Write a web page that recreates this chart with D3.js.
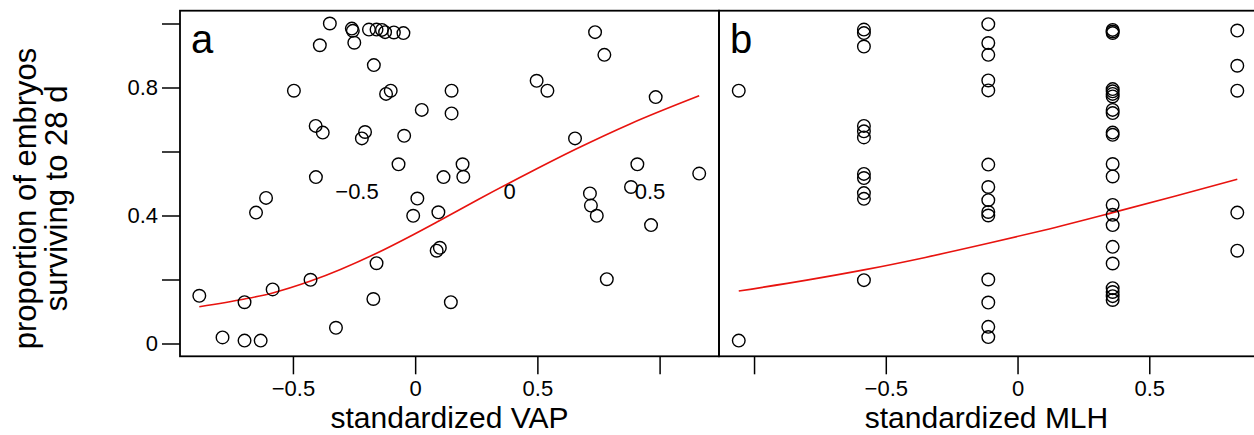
<!DOCTYPE html>
<html>
<head>
<meta charset="utf-8">
<script src="https://cdn.jsdelivr.net/npm/d3@7"></script>
<style>
  html, body { margin: 0; padding: 0; background: #fff; }
  svg { display: block; }
  text { font-family: "Liberation Sans", Arial, Helvetica, sans-serif; fill: #000; }
</style>
</head>
<body>
<svg id="chart" width="1254" height="435"></svg>
<script>
// Panel a: survival vs standardized VAP
const vapX = [-0.349, -0.259, -0.255, -0.189, -0.158, -0.136, -0.123, -0.087, -0.048,
  -0.390, -0.249, -0.169, -0.496, -0.119, -0.100, 0.027, -0.407, -0.378, -0.205, -0.218,
  -0.045, -0.068, -0.406, 0.116, -0.610, 0.009, -0.651, -0.008, 0.095, 0.101, 0.088,
  -0.158, -0.883, -0.698, -0.583, -0.428, -0.171, -0.324, -0.788, -0.698, -0.632, 0.146,
  0.736, 0.774, 0.149, 0.149, 0.497, 0.541, 0.984, 0.654, 0.194, 0.197, 0.909, 1.162,
  0.883, 0.715, 0.719, 0.743, 0.965, 0.784];
const vapSurvival = [1.000, 0.984, 0.977, 0.981, 0.981, 0.980, 0.973, 0.972, 0.970,
  0.932, 0.940, 0.870, 0.790, 0.780, 0.790, 0.730, 0.680, 0.659, 0.661, 0.641,
  0.649, 0.560, 0.520, 0.520, 0.455, 0.453, 0.409, 0.399, 0.410, 0.299, 0.290,
  0.251, 0.149, 0.129, 0.169, 0.199, 0.139, 0.049, 0.019, 0.009, 0.009, 0.129,
  0.973, 0.902, 0.790, 0.719, 0.821, 0.790, 0.770, 0.641, 0.560, 0.521, 0.560, 0.531,
  0.489, 0.469, 0.431, 0.399, 0.370, 0.201];
// fitted survival curve for panel a
const vapFitX = [-0.883, -0.698, -0.583, -0.428, -0.158, -0.008, 0.095, 0.258, 0.470, 0.654, 0.879, 1.162];
const vapFitY = [0.115, 0.139, 0.158, 0.195, 0.282, 0.340, 0.382, 0.450, 0.535, 0.606, 0.686, 0.774];

// Panel b: survival vs standardized MLH (one column per MLH level)
const mlhLevels = [-1.058, -0.583, -0.111, 0.361, 0.834];
const mlhSurvival = [
  [0.790, 0.009],
  [0.981, 0.970, 0.928, 0.680, 0.663, 0.644, 0.530, 0.517, 0.470, 0.452, 0.198],
  [0.998, 0.939, 0.902, 0.822, 0.791, 0.559, 0.489, 0.448, 0.411, 0.400, 0.200, 0.128, 0.052, 0.020],
  [0.980, 0.975, 0.970, 0.795, 0.788, 0.780, 0.772, 0.730, 0.720, 0.659, 0.652, 0.561, 0.522,
   0.433, 0.402, 0.370, 0.302, 0.250, 0.173, 0.161, 0.148, 0.136],
  [0.978, 0.868, 0.790, 0.409, 0.290]
];
// fitted survival curve for panel b
const mlhFitX = [-1.058, -0.8, -0.583, -0.35, -0.111, 0.1, 0.361, 0.6, 0.834];
const mlhFitY = [0.164, 0.198, 0.230, 0.269, 0.313, 0.354, 0.409, 0.461, 0.513];

// Axis ticks and labels
const yTicks = [0, 0.2, 0.4, 0.6, 0.8, 1.0];
const yTickLabels = ["0", "", "0.4", "", "0.8", ""];
const vapTicks = [-0.5, 0, 0.5, 1.0];
const vapTickLabels = ["\u22120.5", "0", "0.5", ""];
const mlhTicks = [-1.0, -0.5, 0, 0.5];
const mlhTickLabels = ["", "\u22120.5", "0", "0.5"];
const innerTicks = [-0.5, 0, 0.5];
const innerTickLabels = ["\u22120.5", "0", "0.5"];
const panelLetters = ["a", "b"];
const xTitles = ["standardized VAP", "standardized MLH"];
const yTitleLines = ["proportion of embryos", "surviving to 28 d"];

const svg = d3.select("#chart");

const plotTop = 10.7, plotBottom = 356.3;
const y = d3.scaleLinear().domain([-0.04, 1.04]).range([plotBottom, plotTop]);
const xa = d3.scaleLinear().domain([-0.962, 1.243]).range([180, 719]);
const xb = d3.scaleLinear().domain([-1.133, 0.905]).range([719, 1256]);
const xInner = d3.scaleLinear().domain([-0.5, 0, 0.5]).range([357, 509.5, 650]);

const circleR = 6.3;

function drawPanel(x, xTicks, xLabels, letter, title, pts, fitX, fitY) {
  const [x0, x1] = x.range();
  const g = svg.append("g");

  // fitted curve
  const line = d3.line().x(d => x(d[0])).y(d => y(d[1])).curve(d3.curveMonotoneX);
  g.append("path")
    .datum(d3.zip(fitX, fitY))
    .attr("d", line)
    .attr("fill", "none")
    .attr("stroke", "#e8130f")
    .attr("stroke-width", 1.6);

  // data points
  g.selectAll("circle.pt").data(pts).join("circle")
    .attr("class", "pt")
    .attr("cx", d => x(d[0]))
    .attr("cy", d => y(d[1]))
    .attr("r", circleR)
    .attr("fill", "none")
    .attr("stroke", "#000")
    .attr("stroke-width", 1.4);

  // frame
  g.append("rect")
    .attr("x", x0).attr("y", plotTop)
    .attr("width", x1 - x0).attr("height", plotBottom - plotTop)
    .attr("fill", "none").attr("stroke", "#000").attr("stroke-width", 1.8);

  // bottom axis
  const ax = d3.axisBottom(x)
    .tickValues(xTicks)
    .tickSize(18)
    .tickPadding(6)
    .tickFormat((d, i) => xLabels[i]);
  const axg = g.append("g").attr("transform", `translate(0,${plotBottom})`).call(ax);
  axg.select(".domain").remove();
  axg.selectAll(".tick line").attr("stroke", "#000").attr("stroke-width", 1.5);
  axg.selectAll(".tick text")
    .attr("font-size", 22)
    .attr("font-family", "Liberation Sans, Arial, sans-serif")
    .attr("fill", "#000");

  // axis title
  g.append("text")
    .attr("x", (x0 + Math.min(x1, 1254)) / 2)
    .attr("y", 427.5)
    .attr("text-anchor", "middle")
    .attr("font-size", 30)
    .text(title);

  // panel letter
  g.append("text")
    .attr("x", x0 + 11)
    .attr("y", 53)
    .attr("font-size", 40)
    .text(letter);
}

drawPanel(xa, vapTicks, vapTickLabels, panelLetters[0], xTitles[0],
  d3.zip(vapX, vapSurvival), vapFitX, vapFitY);

const mlhPts = [];
mlhLevels.forEach((lv, i) => mlhSurvival[i].forEach(v => mlhPts.push([lv, v])));
drawPanel(xb, mlhTicks, mlhTickLabels, panelLetters[1], xTitles[1],
  mlhPts, mlhFitX, mlhFitY);

// labels printed inside panel a
svg.append("g").selectAll("text").data(innerTicks).join("text")
  .attr("x", d => xInner(d))
  .attr("y", 199)
  .attr("text-anchor", "middle")
  .attr("font-size", 22)
  .text((d, i) => innerTickLabels[i]);

// left axis
const ay = d3.axisLeft(y)
  .tickValues(yTicks)
  .tickSize(18)
  .tickPadding(4)
  .tickFormat((d, i) => yTickLabels[i]);
const ayg = svg.append("g").attr("transform", "translate(180,0)").call(ay);
ayg.select(".domain").remove();
ayg.selectAll(".tick line").attr("stroke", "#000").attr("stroke-width", 1.5);
ayg.selectAll(".tick text")
  .attr("font-size", 22)
  .attr("font-family", "Liberation Sans, Arial, sans-serif")
  .attr("fill", "#000");

// y-axis title, two lines
svg.append("g")
  .attr("transform", "translate(0,198.5) rotate(-90)")
  .selectAll("text").data(yTitleLines).join("text")
  .attr("x", 0)
  .attr("y", (d, i) => 36 + i * 31)
  .attr("text-anchor", "middle")
  .attr("font-size", 31)
  .text(d => d);
</script>
</body>
</html>
